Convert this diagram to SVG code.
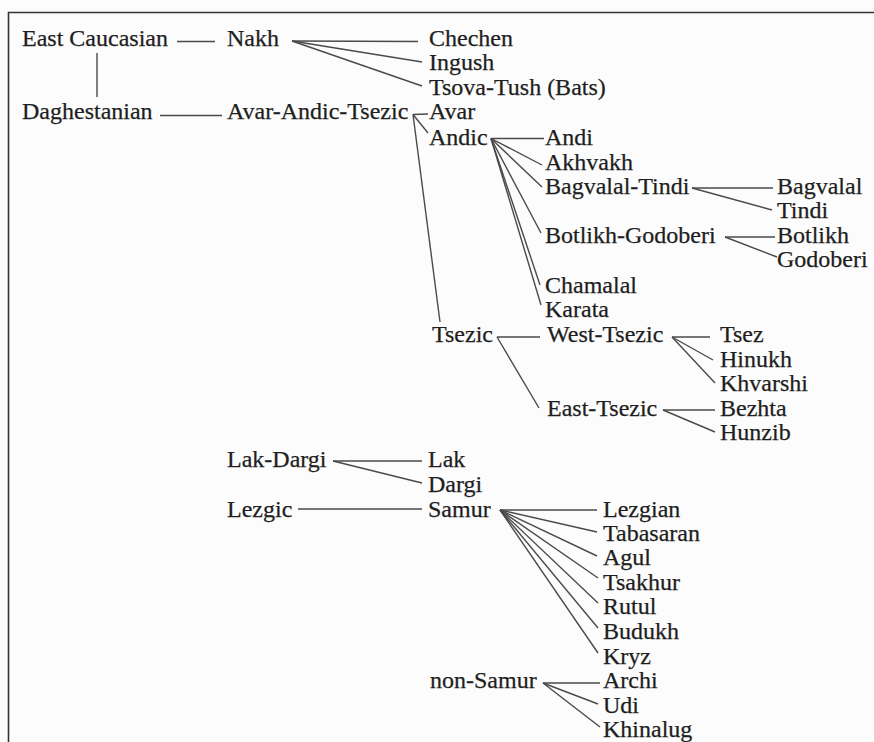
<svg xmlns="http://www.w3.org/2000/svg" width="874" height="742" viewBox="0 0 874 742">
<style>
text{font-family:"Liberation Serif","Times New Roman",serif;font-size:24px;fill:#1e1e1e;stroke:#1e1e1e;stroke-width:0.25}
.c line{stroke:#4a4a4a;stroke-width:1.4;fill:none}
.frame{stroke:#333;stroke-width:1.6;fill:none}
</style>
<rect x="0" y="0" width="874" height="742" fill="#fcfcfc"/>
<path class="frame" d="M8.5 742V12.5H874"/>
<g class="c" id="connectors">
<line x1="177" y1="41.5" x2="215" y2="41.5"/>
<line x1="97" y1="53" x2="97" y2="97"/>
<line x1="292" y1="41" x2="418" y2="41.5"/>
<line x1="292" y1="41" x2="422" y2="62"/>
<line x1="292" y1="41" x2="422" y2="86"/>
<line x1="160" y1="115.5" x2="222" y2="115.5"/>
<line x1="413" y1="114.5" x2="428" y2="114"/>
<line x1="413" y1="114.5" x2="428" y2="133"/>
<line x1="413" y1="114.5" x2="440" y2="322"/>
<line x1="491" y1="138.5" x2="544" y2="138.5"/>
<line x1="491" y1="138.5" x2="542" y2="165"/>
<line x1="491" y1="138.5" x2="542" y2="187"/>
<line x1="491" y1="138.5" x2="541" y2="233"/>
<line x1="491" y1="138.5" x2="540" y2="285"/>
<line x1="491" y1="138.5" x2="541" y2="305"/>
<line x1="692" y1="188" x2="773" y2="188"/>
<line x1="692" y1="188" x2="772" y2="210"/>
<line x1="725" y1="237" x2="775" y2="237"/>
<line x1="725" y1="237" x2="777" y2="257"/>
<line x1="497" y1="337" x2="540" y2="337"/>
<line x1="497" y1="337" x2="539" y2="408"/>
<line x1="672" y1="337" x2="710" y2="337"/>
<line x1="672" y1="337" x2="713" y2="360"/>
<line x1="672" y1="337" x2="715" y2="383"/>
<line x1="663" y1="410" x2="715" y2="410"/>
<line x1="663" y1="410" x2="715" y2="432"/>
<line x1="333" y1="461" x2="422" y2="461"/>
<line x1="333" y1="461" x2="422" y2="483"/>
<line x1="298" y1="509" x2="422" y2="509"/>
<line x1="500" y1="510" x2="597" y2="510"/>
<line x1="500" y1="510" x2="597" y2="532"/>
<line x1="500" y1="510" x2="597" y2="556"/>
<line x1="500" y1="510" x2="598" y2="578"/>
<line x1="500" y1="510" x2="598" y2="603"/>
<line x1="500" y1="510" x2="598" y2="628"/>
<line x1="500" y1="510" x2="598" y2="653"/>
<line x1="543" y1="683" x2="600" y2="683"/>
<line x1="543" y1="683" x2="598" y2="704"/>
<line x1="543" y1="683" x2="600" y2="727"/>
</g>
<g id="east-caucasian"><text x="22" y="46">East Caucasian</text></g>
<g id="nakh"><text x="227" y="46">Nakh</text></g>
<g id="chechen"><text x="429" y="46">Chechen</text></g>
<g id="ingush"><text x="429" y="70">Ingush</text></g>
<g id="tsova-tush"><text x="429" y="94.5">Tsova-Tush (Bats)</text></g>
<g id="daghestanian"><text x="22" y="119">Daghestanian</text></g>
<g id="avar-andic-tsezic"><text x="227" y="119">Avar-Andic-Tsezic</text></g>
<g id="avar"><text x="429" y="119">Avar</text></g>
<g id="andic"><text x="429" y="145">Andic</text></g>
<g id="andi"><text x="545" y="145">Andi</text></g>
<g id="akhvakh"><text x="545" y="170">Akhvakh</text></g>
<g id="bagvalal-tindi"><text x="545" y="194">Bagvalal-Tindi</text></g>
<g id="bagvalal"><text x="777" y="194">Bagvalal</text></g>
<g id="tindi"><text x="777" y="218">Tindi</text></g>
<g id="botlikh-godoberi"><text x="545" y="243">Botlikh-Godoberi</text></g>
<g id="botlikh"><text x="777" y="243">Botlikh</text></g>
<g id="godoberi"><text x="777" y="267">Godoberi</text></g>
<g id="chamalal"><text x="545" y="293">Chamalal</text></g>
<g id="karata"><text x="545" y="317">Karata</text></g>
<g id="tsezic"><text x="432" y="342">Tsezic</text></g>
<g id="west-tsezic"><text x="547" y="342">West-Tsezic</text></g>
<g id="tsez"><text x="720" y="342">Tsez</text></g>
<g id="hinukh"><text x="720" y="367">Hinukh</text></g>
<g id="khvarshi"><text x="720" y="391">Khvarshi</text></g>
<g id="east-tsezic"><text x="547" y="416">East-Tsezic</text></g>
<g id="bezhta"><text x="720" y="416">Bezhta</text></g>
<g id="hunzib"><text x="720" y="440">Hunzib</text></g>
<g id="lak-dargi"><text x="227" y="467">Lak-Dargi</text></g>
<g id="lak"><text x="428" y="467">Lak</text></g>
<g id="dargi"><text x="428" y="492">Dargi</text></g>
<g id="lezgic"><text x="227" y="517">Lezgic</text></g>
<g id="samur"><text x="428" y="517">Samur</text></g>
<g id="lezgian"><text x="603" y="517">Lezgian</text></g>
<g id="tabasaran"><text x="603" y="541">Tabasaran</text></g>
<g id="agul"><text x="603" y="565">Agul</text></g>
<g id="tsakhur"><text x="603" y="590">Tsakhur</text></g>
<g id="rutul"><text x="603" y="614">Rutul</text></g>
<g id="budukh"><text x="603" y="639">Budukh</text></g>
<g id="kryz"><text x="603" y="664">Kryz</text></g>
<g id="non-samur"><text x="430" y="688">non-Samur</text></g>
<g id="archi"><text x="603" y="688">Archi</text></g>
<g id="udi"><text x="603" y="713">Udi</text></g>
<g id="khinalug"><text x="603" y="737">Khinalug</text></g>
</svg>
